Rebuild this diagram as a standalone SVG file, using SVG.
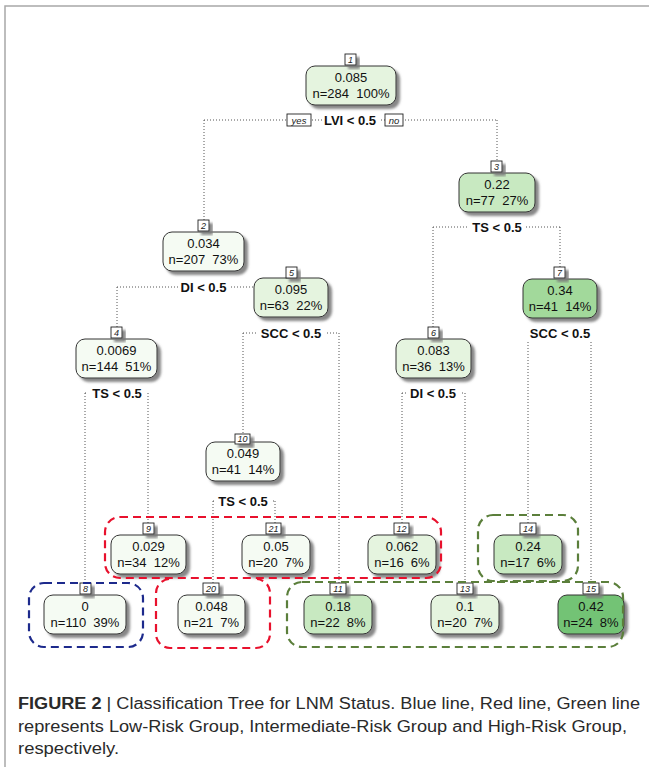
<svg xmlns="http://www.w3.org/2000/svg" width="649" height="767" viewBox="0 0 649 767">
<defs>
<filter id="sh" x="-20%" y="-20%" width="150%" height="160%">
<feDropShadow dx="3.5" dy="3.5" stdDeviation="1.3" flood-color="#7a7a7a" flood-opacity="0.9"/>
</filter>
<style>
.box{stroke:#333;stroke-width:1;filter:url(#sh)}
.lb{fill:#fff;stroke:#222;stroke-width:0.9;filter:url(#sh)}
.lt{font-family:"Liberation Sans",Arial,sans-serif;font-size:9px;font-style:italic;fill:#222;text-anchor:middle}
.v{font-family:"Liberation Sans",Arial,sans-serif;font-size:13px;fill:#111;text-anchor:middle;white-space:pre}
.sp{font-family:"Liberation Sans",Arial,sans-serif;font-size:13px;font-weight:bold;fill:#111;text-anchor:middle}
.spb{fill:#fff}
.yn{font-family:"Liberation Sans",Arial,sans-serif;font-size:9.5px;font-style:italic;fill:#222;text-anchor:middle}
.ynb{fill:#fff;stroke:#222;stroke-width:0.9}
.c{fill:none;stroke:#555;stroke-width:1;stroke-dasharray:1 2}
.g{fill:none;stroke-width:2.2;stroke-dasharray:8 5}
.f0{fill:#f5fbf3}.f1{fill:#e5f4df}.f2{fill:#c8e9c1}.f3{fill:#a2d99b}.f4{fill:#73c375}
.cap{font-family:"Liberation Sans",Arial,sans-serif;font-size:16px;fill:#2a2a2a}
</style>
</defs>
<rect x="0" y="0" width="649" height="767" fill="#fff"/>
<path d="M5 767 V6 H649" fill="none" stroke="#a8a8a8" stroke-width="1.5"/>

<g id="connectors">
<path class="c" d="M204 120 H497 M204 120 V220 M497 120 V161"/>
<path class="c" d="M117 287 H291 M117 287 V327 M291 287 V267"/>
<path class="c" d="M243 333 H339 M243 333 V434 M339 333 V583"/>
<path class="c" d="M85 393 H148 M85 393 V583 M148 393 V523"/>
<path class="c" d="M213 501 H275 M213 501 V583 M275 501 V523"/>
<path class="c" d="M433 227 H560 M433 227 V327 M560 227 V267"/>
<path class="c" d="M402 393 H465 M402 393 V523 M465 393 V583"/>
<path class="c" d="M528 333 H591 M528 333 V523 M591 333 V583"/>
</g>

<g id="splits">
<rect class="spb" x="322" y="112" width="57" height="15"/>
<text class="sp" x="350" y="124.5">LVI &lt; 0.5</text>
<rect class="ynb" x="287" y="114" width="24" height="12"/>
<text class="yn" x="299" y="123.5">yes</text>
<rect class="ynb" x="385" y="114" width="18" height="12"/>
<text class="yn" x="394" y="123.5">no</text>
<rect class="spb" x="178" y="280" width="51" height="15"/>
<text class="sp" x="203.5" y="291.5">DI &lt; 0.5</text>
<rect class="spb" x="87" y="381" width="60" height="19"/>
<text class="sp" x="117" y="397.5">TS &lt; 0.5</text>
<rect class="spb" x="256" y="326" width="70" height="15"/>
<text class="sp" x="291" y="337.5">SCC &lt; 0.5</text>
<rect class="spb" x="216" y="488" width="55" height="19"/>
<text class="sp" x="243" y="505.5">TS &lt; 0.5</text>
<rect class="spb" x="469" y="220" width="56" height="15"/>
<text class="sp" x="497" y="231.5">TS &lt; 0.5</text>
<rect class="spb" x="406" y="381" width="54" height="19"/>
<text class="sp" x="433" y="397.5">DI &lt; 0.5</text>
<rect class="spb" x="525" y="326" width="70" height="15"/>
<text class="sp" x="560" y="337.5">SCC &lt; 0.5</text>
</g>

<g id="node1"><rect class="box f1" x="306" y="66" width="90" height="39" rx="9"/><rect class="lb" x="345" y="54" width="11" height="11"/><text class="lt" x="350.5" y="62.5">1</text><text class="v" x="351" y="81.5">0.085</text><text class="v" x="351" y="98">n=284  100%</text></g>
<g id="node2"><rect class="box f0" x="163" y="232" width="81" height="39" rx="9"/><rect class="lb" x="198" y="220" width="11" height="11"/><text class="lt" x="203.5" y="228.5">2</text><text class="v" x="203.5" y="247.5">0.034</text><text class="v" x="203.5" y="264">n=207  73%</text></g>
<g id="node3"><rect class="box f2" x="459" y="173" width="76" height="39" rx="9"/><rect class="lb" x="491" y="161" width="11" height="11"/><text class="lt" x="496.5" y="169.5">3</text><text class="v" x="497" y="188.5">0.22</text><text class="v" x="497" y="205">n=77  27%</text></g>
<g id="node4"><rect class="box f0" x="76" y="339" width="81" height="39" rx="9"/><rect class="lb" x="111" y="327" width="11" height="11"/><text class="lt" x="116.5" y="335.5">4</text><text class="v" x="116.5" y="354.5">0.0069</text><text class="v" x="116.5" y="371">n=144  51%</text></g>
<g id="node5"><rect class="box f1" x="254" y="278" width="74" height="39" rx="9"/><rect class="lb" x="286" y="267" width="11" height="11"/><text class="lt" x="291.5" y="275.5">5</text><text class="v" x="291" y="293.5">0.095</text><text class="v" x="291" y="310">n=63  22%</text></g>
<g id="node6"><rect class="box f1" x="396" y="339" width="75" height="39" rx="9"/><rect class="lb" x="428" y="327" width="11" height="11"/><text class="lt" x="433.5" y="335.5">6</text><text class="v" x="433.5" y="354.5">0.083</text><text class="v" x="433.5" y="371">n=36  13%</text></g>
<g id="node7"><rect class="box f3" x="523" y="279" width="74" height="39" rx="9"/><rect class="lb" x="554" y="267" width="11" height="11"/><text class="lt" x="559.5" y="275.5">7</text><text class="v" x="560" y="294.5">0.34</text><text class="v" x="560" y="311">n=41  14%</text></g>
<g id="node10"><rect class="box f0" x="206" y="442" width="74" height="39" rx="9"/><rect class="lb" x="235" y="434" width="15" height="10"/><text class="lt" x="242.5" y="442">10</text><text class="v" x="243" y="457.5">0.049</text><text class="v" x="243" y="474">n=41  14%</text></g>
<g id="node9"><rect class="box f0" x="111" y="535" width="75" height="39" rx="9"/><rect class="lb" x="143" y="523" width="11" height="11"/><text class="lt" x="148.5" y="531.5">9</text><text class="v" x="148.5" y="550.5">0.029</text><text class="v" x="148.5" y="567">n=34  12%</text></g>
<g id="node21"><rect class="box f0" x="242" y="535" width="68" height="39" rx="9"/><rect class="lb" x="266" y="523" width="15" height="11"/><text class="lt" x="273.5" y="531.5">21</text><text class="v" x="276" y="550.5">0.05</text><text class="v" x="276" y="567">n=20  7%</text></g>
<g id="node12"><rect class="box f1" x="368" y="535" width="68" height="39" rx="9"/><rect class="lb" x="394" y="523" width="15" height="11"/><text class="lt" x="401.5" y="531.5">12</text><text class="v" x="402" y="550.5">0.062</text><text class="v" x="402" y="567">n=16  6%</text></g>
<g id="node14"><rect class="box f2" x="494" y="535" width="68" height="39" rx="9"/><rect class="lb" x="520" y="523" width="16" height="11"/><text class="lt" x="528" y="531.5">14</text><text class="v" x="528" y="550.5">0.24</text><text class="v" x="528" y="567">n=17  6%</text></g>
<g id="node8"><rect class="box f0" x="44" y="595" width="82" height="39" rx="9"/><rect class="lb" x="80" y="583" width="11" height="11"/><text class="lt" x="85.5" y="591.5">8</text><text class="v" x="85" y="610.5">0</text><text class="v" x="85" y="627">n=110  39%</text></g>
<g id="node20"><rect class="box f0" x="178" y="595" width="67" height="39" rx="9"/><rect class="lb" x="203" y="583" width="16" height="11"/><text class="lt" x="211" y="591.5">20</text><text class="v" x="211.5" y="610.5">0.048</text><text class="v" x="211.5" y="627">n=21  7%</text></g>
<g id="node11"><rect class="box f2" x="304" y="595" width="68" height="39" rx="9"/><rect class="lb" x="330" y="583" width="16" height="11"/><text class="lt" x="338" y="591.5">11</text><text class="v" x="338" y="610.5">0.18</text><text class="v" x="338" y="627">n=22  8%</text></g>
<g id="node13"><rect class="box f1" x="431" y="595" width="68" height="39" rx="9"/><rect class="lb" x="457" y="583" width="16" height="11"/><text class="lt" x="465" y="591.5">13</text><text class="v" x="465" y="610.5">0.1</text><text class="v" x="465" y="627">n=20  7%</text></g>
<g id="node15"><rect class="box f4" x="558" y="595" width="66" height="39" rx="9"/><rect class="lb" x="583" y="583" width="16" height="11"/><text class="lt" x="591" y="591.5">15</text><text class="v" x="591" y="610.5">0.42</text><text class="v" x="591" y="627">n=24  8%</text></g>

<g id="groups">
<rect class="g" stroke="#1d2a8c" x="29" y="583" width="114" height="64" rx="15"/>
<rect class="g" stroke="#e8112d" x="105" y="517" width="336" height="61" rx="15"/>
<path class="g" stroke="#e8112d" d="M169 579 A14 14 0 0 0 156 593 V634 A14 14 0 0 0 170 648 H256 A14 14 0 0 0 270 634 V593 A14 14 0 0 0 257 579"/>
<rect class="g" stroke="#5b7f3b" x="478" y="515" width="100" height="66" rx="15"/>
<rect class="g" stroke="#5b7f3b" x="287" y="582" width="336" height="65" rx="15"/>
</g>

<g id="caption">
<text class="cap" x="18" y="709" textLength="622" lengthAdjust="spacingAndGlyphs"><tspan font-weight="bold">FIGURE 2</tspan> | Classification Tree for LNM Status. Blue line, Red line, Green line</text>
<text class="cap" x="18" y="732" textLength="609" lengthAdjust="spacingAndGlyphs">represents Low-Risk Group, Intermediate-Risk Group and High-Risk Group,</text>
<text class="cap" x="18" y="754" textLength="101" lengthAdjust="spacingAndGlyphs">respectively.</text>
</g>
</svg>
